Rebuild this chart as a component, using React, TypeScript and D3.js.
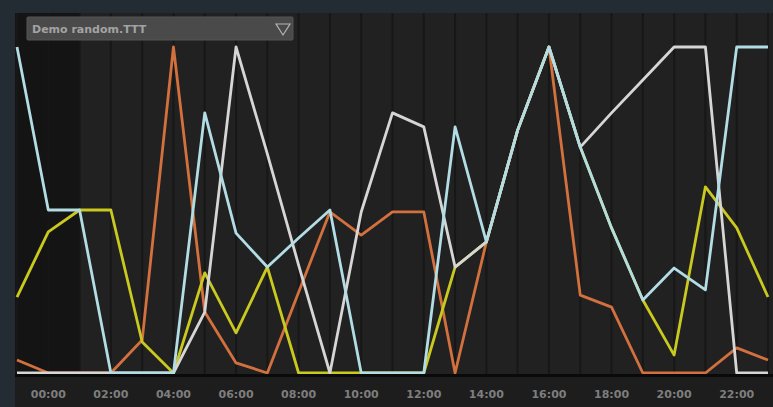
import React from "react";
import * as d3 from "d3";

const hours = d3.range(25);
const tickLabels = ["00:00","02:00","04:00","06:00","08:00","10:00","12:00","14:00","16:00","18:00","20:00","22:00"];
const tickIndex = [1,3,5,7,9,11,13,15,17,19,21,23];

const cyanValues = [100,50,50,0,0,0,79.8,42.9,32.5,41.4,50,0,0,0,75.5,40.2,74.5,100,69.3,44.5,22.4,32.2,25.5,100,100];
const whiteValues = [0,0,0,0,0,0,18.7,100,67.2,33.1,0,49.4,79.8,75.5,32.5,40.2,74.5,100,69.3,79.8,89.9,100,100,0,0];
const orangeValues = [4,0,0,0,10.1,100,18.7,3.1,0,24.8,49.4,42.3,49.4,49.4,0,40.2,74.5,100,23.9,20.2,0,0,0,7.7,4];
const yellowValues = [23.3,43.3,50,50,9.5,0,30.7,12.3,32.5,0,0,0,0,0,32.5,40.2,74.5,100,69.3,44.5,22.4,5.5,57.1,44.5,23.3];

const series = [
  { name: "orange", values: orangeValues, color: "#d2703e" },
  { name: "yellow", values: yellowValues, color: "#c9c91f" },
  { name: "white", values: whiteValues, color: "#d6d6d6" },
  { name: "cyan", values: cyanValues, color: "#b3dde4" },
];

const W = 773, H = 407;
const plotLeft = 15, plotTop = 13, plotBottom = 375;

export default function App() {
  const x = d3.scaleLinear().domain([0, 24]).range([17, 768]);
  const y = d3.scaleLinear().domain([0, 100]).range([373, 47]);
  const line = d3.line<number>().x((_, i) => x(i)).y((v) => y(v));

  return (
    <svg width={W} height={H} style={{ position: "absolute", left: 0, top: 0, fontFamily: "'DejaVu Sans', sans-serif" }}>
      <rect x={0} y={0} width={W} height={H} fill="#242c33" />
      <rect x={plotLeft} y={plotTop} width={W - plotLeft} height={plotBottom - plotTop} fill="#212121" />
      <rect x={plotLeft} y={plotTop} width={x(2) - plotLeft} height={plotBottom - plotTop} fill="#141414" />
      {hours.map((h) => (
        <line key={h} x1={x(h)} x2={x(h)} y1={plotTop} y2={plotBottom} stroke="#171717" strokeWidth={2} />
      ))}
      <rect x={plotLeft} y={plotBottom} width={W - plotLeft} height={H - plotBottom} fill="#1d1d1d" />
      {series.map((s) => (
        <path key={s.name} d={line(s.values) || ""} fill="none" stroke={s.color} strokeWidth={2.8} strokeLinejoin="round" />
      ))}
      <rect x={plotLeft} y={plotBottom - 1} width={W - plotLeft} height={3} fill="#0a0a0a" />
      {tickIndex.map((k, i) => (
        <text key={k} x={x(k)} y={398} textAnchor="middle" fontSize={11} fontWeight="bold" fill="#7e7e7e">
          {tickLabels[i]}
        </text>
      ))}
      <rect x={27} y={17} width={266} height={23} rx={1} fill="#4a4a4a" stroke="#555" strokeWidth={1} />
      <text x={32} y={33} fontSize={11} fontWeight="bold" fill="#a3a3a3">Demo random.TTT</text>
      <path d="M276,24 L290,24 L283,35 Z" fill="none" stroke="#b5b5b5" strokeWidth={1.2} />
    </svg>
  );
}
